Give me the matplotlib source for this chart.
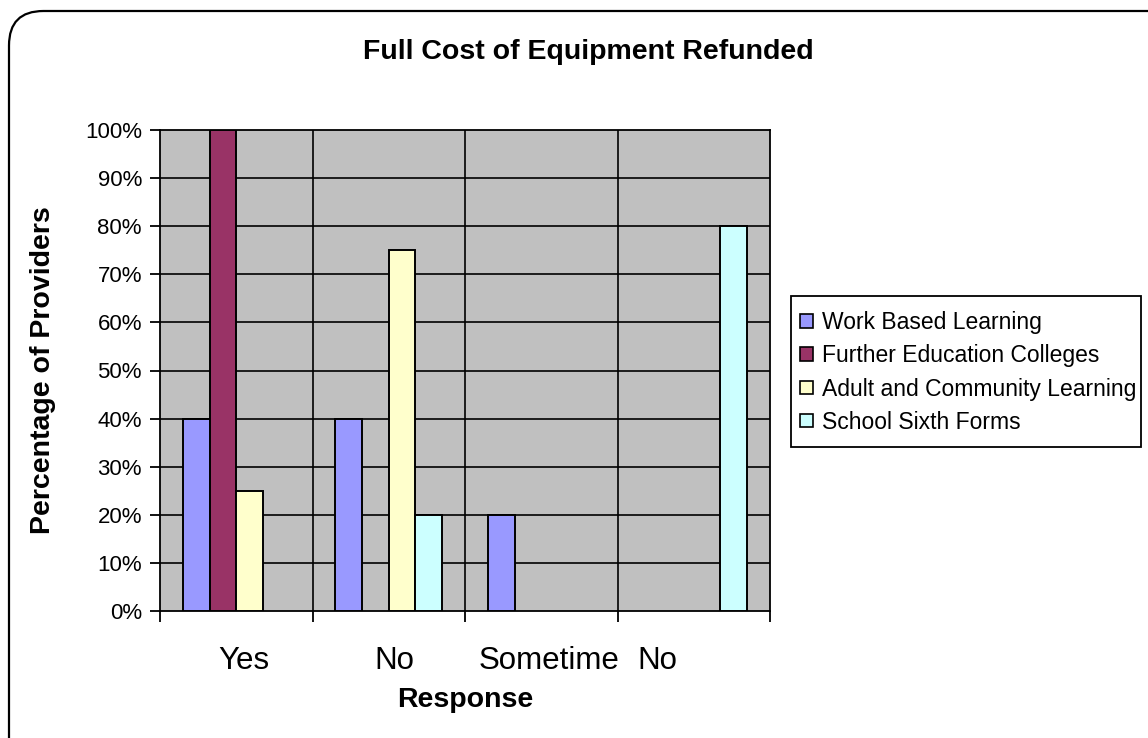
import matplotlib
matplotlib.use("Agg")
import matplotlib.pyplot as plt
from matplotlib.patches import FancyBboxPatch, Patch, Rectangle
import numpy as np

plt.rcParams['font.family'] = ['Liberation Sans', 'DejaVu Sans']

# Chart data
title = "Full Cost of Equipment Refunded"
categories = ["Yes", "No", "Sometime", "No"]
series_names = ["Work Based Learning", "Further Education Colleges",
                "Adult and Community Learning", "School Sixth Forms"]
work_based = [40, 40, 20, 0]
further_ed = [100, 0, 0, 0]
adult_comm = [25, 75, 0, 0]
sixth_forms = [0, 20, 0, 80]
series_colors = ["#9999FF", "#993366", "#FFFFCC", "#CCFFFF"]
y_ticks = [0, 10, 20, 30, 40, 50, 60, 70, 80, 90, 100]

W, H = 1148, 738
fig = plt.figure(figsize=(W / 100, H / 100), dpi=100)
fig.patch.set_facecolor("white")

# Rounded chart-area border
border = FancyBboxPatch((9 / W, 1 - 1000 / H), 1200 / W, (1000 - 11) / H,
                        boxstyle="round,pad=0,rounding_size=0.03",
                        transform=fig.transFigure, facecolor="none",
                        edgecolor="black", linewidth=1.6, clip_on=False,
                        mutation_aspect=W / H)
fig.patches.append(border)

ax = fig.add_axes([160 / W, 1 - 611 / H, 610 / W, 481 / H])
ax.set_facecolor("#C0C0C0")

x = np.arange(len(categories))
bw = 0.175
all_series = [work_based, further_ed, adult_comm, sixth_forms]
offsets = [-1.5 * bw, -0.5 * bw, 0.5 * bw, 1.5 * bw]
for vals, off, col in zip(all_series, offsets, series_colors):
    heights = [v if v > 0 else np.nan for v in vals]
    ax.bar(x + off, heights, width=bw, color=col, edgecolor="black",
           linewidth=1.4, zorder=3)

ax.set_xlim(-0.5, len(categories) - 0.5)
ax.set_ylim(0, 100)

# Gridlines: horizontal at each tick, vertical at category boundaries
for yv in y_ticks[1:-1]:
    ax.axhline(yv, color="black", linewidth=1.2, zorder=1)
for b in np.arange(0.5, len(categories) - 0.5, 1.0):
    ax.axvline(b, color="black", linewidth=1.2, zorder=1)

for s in ax.spines.values():
    s.set_linewidth(1.3)
    s.set_color("black")

ax.set_yticks(y_ticks)
ax.set_yticklabels([f"{v}%" for v in y_ticks], fontsize=16)
ax.tick_params(axis="y", direction="out", length=7, width=1.3, pad=6)

# Category tick marks at boundaries, labels below
ax.set_xticks(np.arange(-0.5, len(categories), 1.0), minor=True)
ax.tick_params(axis="x", which="minor", direction="out", length=8, width=1.3)
label_pos = [0.05, 1.04, 2.05, 2.76]
ax.set_xticks(label_pos)
ax.set_xticklabels(categories, fontsize=22.5)
ax.tick_params(axis="x", which="major", length=0, pad=25)

ax.set_xlabel("Response", fontsize=20.5, fontweight="bold", labelpad=8)
ax.set_ylabel("Percentage of Providers", fontsize=20.5, fontweight="bold", labelpad=21)

fig.text(588 / W, 1 - 52 / H, title, fontsize=20.5, fontweight="bold",
         ha="center", va="center")

# Legend frame drawn separately so it hugs the longest entry
fig.patches.append(Rectangle((791 / W, 1 - 447 / H), 350 / W, 151 / H,
                             transform=fig.transFigure, facecolor="white",
                             edgecolor="black", linewidth=1.3, zorder=1))
handles = [Patch(facecolor=c, edgecolor="black", linewidth=1.2) for c in series_colors]
leg = fig.legend(handles, series_names, loc="center left",
                 bbox_to_anchor=(800 / W, 1 - 372.5 / H), fontsize=16.5,
                 frameon=False, handlelength=0.55, handleheight=0.55,
                 handletextpad=0.42, labelspacing=0.44, borderpad=0,
                 borderaxespad=0)
leg.set_zorder(2)

fig.savefig("out.png", dpi=100)
